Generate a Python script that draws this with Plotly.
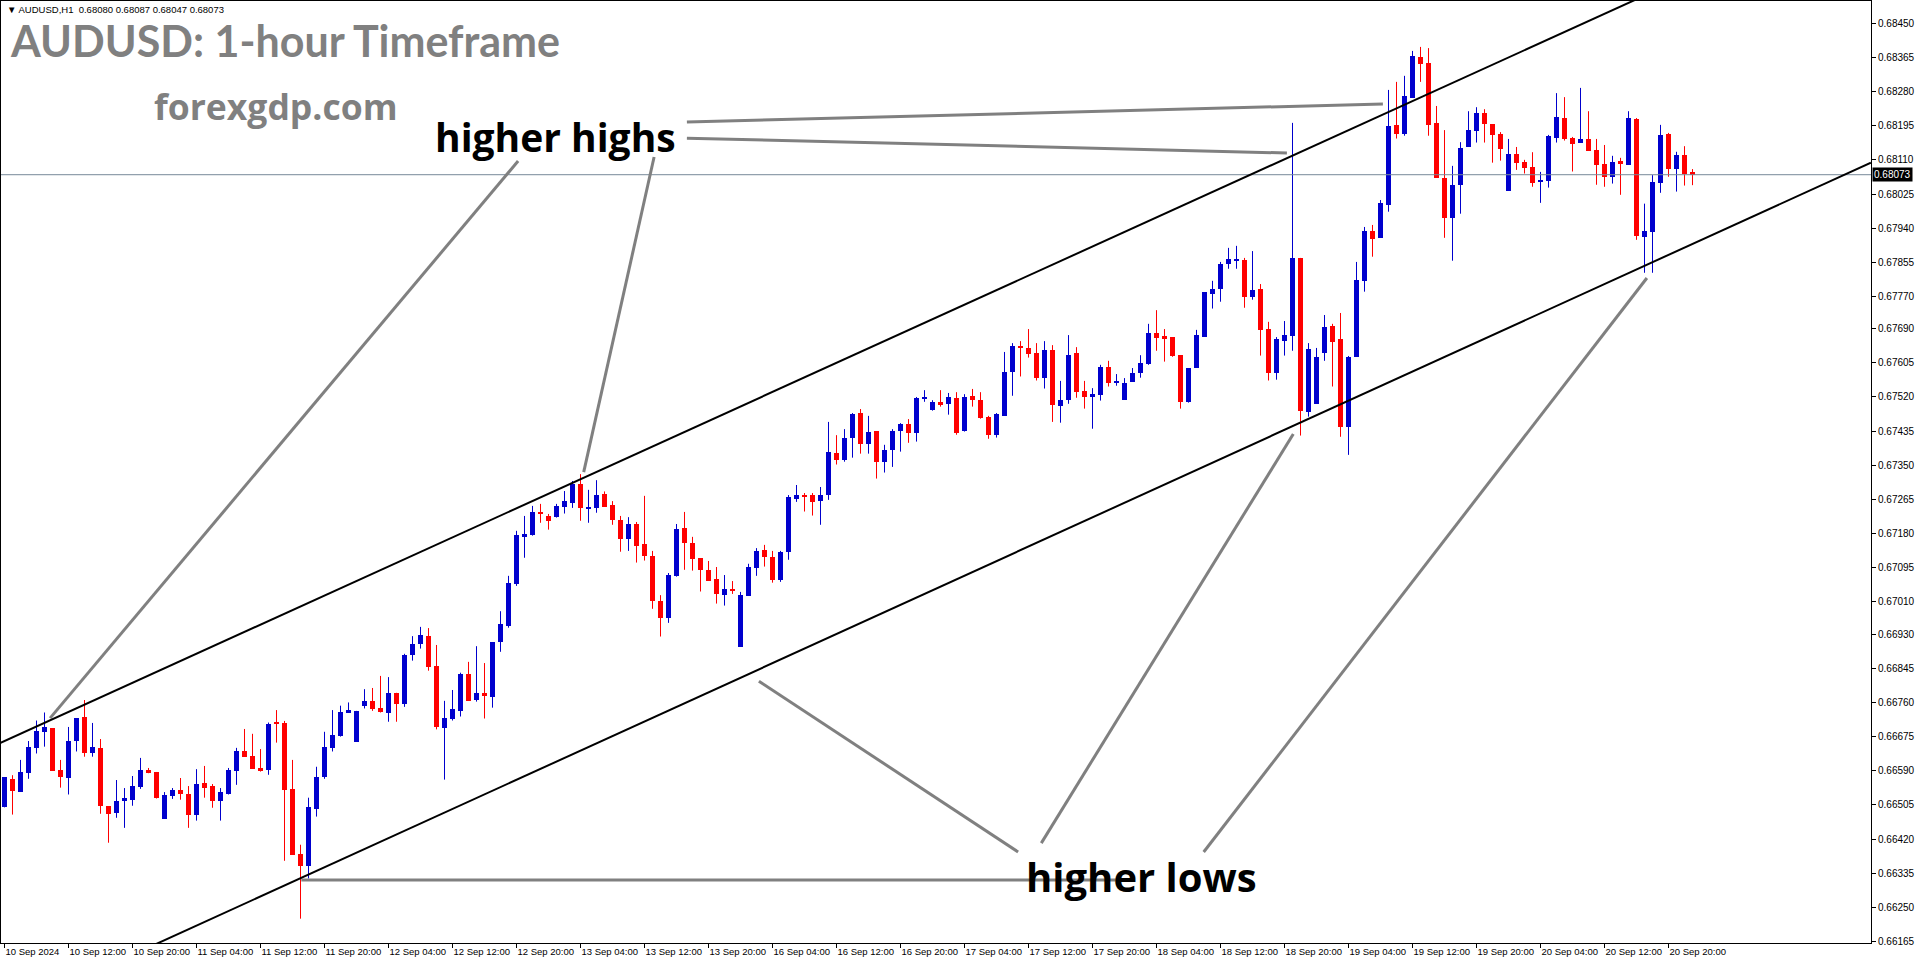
import plotly.graph_objects as go

# ---------------- data (AUDUSD H1) ----------------
OPEN = [0.66499,0.66570,0.66538,0.66585,0.66647,0.66687,0.66696,0.66592,0.66573,0.66664,
0.66724,0.66635,0.66647,0.66502,0.66486,0.66514,0.66518,0.66550,0.66592,0.66587,
0.66471,0.66528,0.66542,0.66532,0.66481,0.66560,0.66552,0.66516,0.66533,0.66590,
0.66640,0.66627,0.66597,0.66593,0.66709,0.66710,0.66545,0.66383,0.66354,0.66496,
0.66575,0.66647,0.66677,0.66734,0.66662,0.66752,0.66764,0.66746,0.66734,0.66784,
0.66757,0.66879,0.66906,0.66925,0.66851,0.66697,0.66720,0.66739,0.66831,0.66767,
0.66784,0.66774,0.66911,0.66951,0.67055,0.67172,0.67177,0.67234,0.67224,0.67222,
0.67247,0.67257,0.67304,0.67242,0.67244,0.67279,0.67251,0.67214,0.67167,0.67204,
0.67154,0.67124,0.67012,0.66971,0.67075,0.67194,0.67157,0.67119,0.67089,0.67067,
0.67028,0.67042,0.66899,0.67026,0.67095,0.67139,0.67122,0.67065,0.67135,0.67267,
0.67276,0.67276,0.67262,0.67277,0.67381,0.67362,0.67419,0.67479,0.67404,0.67435,
0.67359,0.67389,0.67436,0.67453,0.67431,0.67516,0.67488,0.67507,0.67503,0.67517,
0.67436,0.67522,0.67512,0.67470,0.67426,0.67473,0.67583,0.67644,0.67642,0.67629,
0.67568,0.67637,0.67498,0.67513,0.67629,0.67535,0.67521,0.67526,0.67595,0.67557,
0.67513,0.67558,0.67580,0.67603,0.67679,0.67672,0.67669,0.67624,0.67508,0.67593,
0.67670,0.67777,0.67789,0.67852,0.67859,0.67861,0.67770,0.67789,0.67689,0.67580,
0.67660,0.67672,0.67866,0.67483,0.67503,0.67630,0.67697,0.67664,0.67446,0.67620,
0.67809,0.67933,0.67916,0.67998,0.68197,0.68175,0.68265,0.68366,0.68351,0.68202,
0.68065,0.67966,0.68047,0.68142,0.68182,0.68226,0.68199,0.68174,0.68033,0.68125,
0.68105,0.68092,0.68057,0.68058,0.68165,0.68214,0.68164,0.68153,0.68162,0.68134,
0.68100,0.68068,0.68107,0.68098,0.68212,0.67919,0.67931,0.68053,0.68174,0.68088,
0.68122,0.68080]
HIGH = [0.66574,0.66579,0.66617,0.66664,0.66715,0.66735,0.66696,0.66617,0.66699,0.66721,
0.66766,0.66709,0.66669,0.66502,0.66567,0.66547,0.66577,0.66622,0.66597,0.66587,
0.66537,0.66547,0.66572,0.66552,0.66594,0.66602,0.66557,0.66547,0.66597,0.66647,
0.66694,0.66682,0.66644,0.66710,0.66741,0.66714,0.66617,0.66406,0.66523,0.66600,
0.66687,0.66741,0.66752,0.66760,0.66739,0.66793,0.66796,0.66826,0.66823,0.66784,
0.66881,0.66925,0.66948,0.66945,0.66903,0.66764,0.66791,0.66834,0.66861,0.66900,
0.66858,0.66910,0.66987,0.67075,0.67187,0.67224,0.67249,0.67254,0.67229,0.67254,
0.67286,0.67311,0.67328,0.67289,0.67313,0.67285,0.67261,0.67224,0.67221,0.67209,
0.67274,0.67137,0.67027,0.67082,0.67204,0.67234,0.67172,0.67119,0.67112,0.67097,
0.67077,0.67062,0.67035,0.67105,0.67144,0.67152,0.67137,0.67137,0.67276,0.67301,
0.67281,0.67281,0.67296,0.67458,0.67425,0.67440,0.67480,0.67490,0.67473,0.67435,
0.67401,0.67440,0.67455,0.67465,0.67520,0.67537,0.67512,0.67537,0.67530,0.67532,
0.67527,0.67540,0.67532,0.67473,0.67480,0.67632,0.67654,0.67659,0.67689,0.67654,
0.67659,0.67649,0.67560,0.67674,0.67644,0.67560,0.67542,0.67600,0.67610,0.67577,
0.67567,0.67592,0.67624,0.67702,0.67736,0.67689,0.67669,0.67624,0.67592,0.67687,
0.67781,0.67809,0.67856,0.67891,0.67896,0.67866,0.67883,0.67801,0.67707,0.67669,
0.67709,0.68202,0.67866,0.67654,0.67642,0.67724,0.67702,0.67729,0.67622,0.67856,
0.67943,0.67948,0.68010,0.68284,0.68304,0.68319,0.68381,0.68391,0.68388,0.68244,
0.68184,0.68095,0.68154,0.68231,0.68241,0.68236,0.68199,0.68179,0.68162,0.68142,
0.68110,0.68129,0.68080,0.68172,0.68276,0.68266,0.68167,0.68289,0.68231,0.68162,
0.68147,0.68120,0.68115,0.68231,0.68214,0.68001,0.68072,0.68197,0.68177,0.68130,
0.68144,0.68087]
LOW = [0.66499,0.66481,0.66538,0.66570,0.66633,0.66650,0.66590,0.66548,0.66531,0.66638,
0.66625,0.66625,0.66483,0.66411,0.66473,0.66448,0.66503,0.66545,0.66584,0.66521,
0.66471,0.66520,0.66518,0.66448,0.66466,0.66523,0.66498,0.66466,0.66531,0.66555,
0.66625,0.66595,0.66588,0.66580,0.66660,0.66366,0.66381,0.66222,0.66322,0.66476,
0.66570,0.66638,0.66675,0.66734,0.66662,0.66745,0.66739,0.66735,0.66712,0.66712,
0.66749,0.66864,0.66894,0.66839,0.66693,0.66568,0.66715,0.66725,0.66764,0.66762,
0.66720,0.66747,0.66886,0.66946,0.67050,0.67120,0.67175,0.67207,0.67190,0.67220,
0.67230,0.67244,0.67212,0.67207,0.67232,0.67247,0.67202,0.67135,0.67137,0.67108,
0.67113,0.66993,0.66924,0.66958,0.67073,0.67090,0.67088,0.67036,0.67063,0.67006,
0.67001,0.67030,0.66899,0.67026,0.67075,0.67098,0.67058,0.67060,0.67115,0.67259,
0.67235,0.67225,0.67202,0.67264,0.67352,0.67359,0.67369,0.67379,0.67379,0.67317,
0.67332,0.67346,0.67384,0.67406,0.67409,0.67508,0.67486,0.67496,0.67476,0.67426,
0.67434,0.67496,0.67466,0.67416,0.67419,0.67473,0.67523,0.67571,0.67618,0.67561,
0.67541,0.67458,0.67456,0.67503,0.67518,0.67491,0.67441,0.67511,0.67546,0.67548,
0.67513,0.67558,0.67568,0.67600,0.67635,0.67608,0.67620,0.67491,0.67506,0.67593,
0.67670,0.67740,0.67757,0.67839,0.67839,0.67742,0.67762,0.67623,0.67561,0.67563,
0.67623,0.67635,0.67424,0.67471,0.67503,0.67610,0.67546,0.67421,0.67376,0.67620,
0.67782,0.67869,0.67916,0.67981,0.68163,0.68170,0.68265,0.68304,0.68170,0.68065,
0.67916,0.67859,0.67976,0.68142,0.68153,0.68153,0.68103,0.68108,0.68033,0.68085,
0.68076,0.68043,0.68003,0.68041,0.68153,0.68158,0.68081,0.68153,0.68133,0.68048,
0.68043,0.68051,0.68023,0.68098,0.67911,0.67829,0.67829,0.68028,0.68068,0.68031,
0.68046,0.68047]
CLOSE = [0.66574,0.66540,0.66587,0.66649,0.66689,0.66699,0.66590,0.66575,0.66664,0.66721,
0.66635,0.66649,0.66503,0.66483,0.66515,0.66522,0.66552,0.66592,0.66585,0.66523,
0.66529,0.66542,0.66533,0.66481,0.66557,0.66548,0.66516,0.66537,0.66593,0.66640,
0.66625,0.66595,0.66590,0.66707,0.66707,0.66543,0.66381,0.66354,0.66500,0.66575,
0.66649,0.66679,0.66736,0.66741,0.66739,0.66764,0.66744,0.66737,0.66784,0.66757,
0.66878,0.66905,0.66928,0.66849,0.66700,0.66721,0.66744,0.66831,0.66764,0.66784,
0.66777,0.66910,0.66955,0.67057,0.67177,0.67179,0.67234,0.67229,0.67212,0.67249,
0.67261,0.67304,0.67244,0.67246,0.67276,0.67247,0.67215,0.67167,0.67205,0.67150,
0.67125,0.67013,0.66971,0.67077,0.67192,0.67157,0.67118,0.67090,0.67063,0.67031,
0.67042,0.67038,0.67027,0.67097,0.67137,0.67123,0.67065,0.67134,0.67270,0.67276,
0.67272,0.67259,0.67276,0.67383,0.67364,0.67418,0.67478,0.67404,0.67433,0.67359,
0.67388,0.67435,0.67453,0.67431,0.67517,0.67520,0.67507,0.67501,0.67520,0.67431,
0.67520,0.67513,0.67468,0.67426,0.67478,0.67582,0.67647,0.67642,0.67628,0.67566,
0.67637,0.67501,0.67512,0.67624,0.67533,0.67521,0.67527,0.67595,0.67556,0.67560,
0.67555,0.67580,0.67605,0.67679,0.67667,0.67665,0.67623,0.67508,0.67592,0.67674,
0.67781,0.67789,0.67851,0.67863,0.67863,0.67770,0.67786,0.67687,0.67580,0.67664,
0.67674,0.67866,0.67486,0.67639,0.67619,0.67694,0.67658,0.67446,0.67619,0.67811,
0.67933,0.67914,0.68003,0.68194,0.68175,0.68269,0.68368,0.68349,0.68197,0.68065,
0.67966,0.68047,0.68139,0.68184,0.68226,0.68199,0.68172,0.68138,0.68125,0.68103,
0.68090,0.68053,0.68058,0.68169,0.68217,0.68163,0.68150,0.68162,0.68133,0.68098,
0.68068,0.68105,0.68100,0.68214,0.67921,0.67933,0.68055,0.68172,0.68088,0.68122,
0.68076,0.68073]

X_TICK_LABELS = ["10 Sep 2024","10 Sep 12:00","10 Sep 20:00","11 Sep 04:00","11 Sep 12:00",
    "11 Sep 20:00","12 Sep 04:00","12 Sep 12:00","12 Sep 20:00","13 Sep 04:00","13 Sep 12:00",
    "13 Sep 20:00","16 Sep 04:00","16 Sep 12:00","16 Sep 20:00","17 Sep 04:00","17 Sep 12:00",
    "17 Sep 20:00","18 Sep 04:00","18 Sep 12:00","18 Sep 20:00","19 Sep 04:00","19 Sep 12:00",
    "19 Sep 20:00","20 Sep 04:00","20 Sep 12:00","20 Sep 20:00"]
X_TICK_BARS = [8 * k for k in range(len(X_TICK_LABELS))]   # one label every 8 hourly bars

Y_TICK_LABELS = ["0.68450","0.68365","0.68280","0.68195","0.68110","0.68025","0.67940",
    "0.67855","0.67770","0.67690","0.67605","0.67520","0.67435","0.67350","0.67265","0.67180",
    "0.67095","0.67010","0.66930","0.66845","0.66760","0.66675","0.66590","0.66505","0.66420",
    "0.66335","0.66250","0.66165"]

LAST_PRICE = 0.68073
HEADER = "\u25bc AUDUSD,H1  0.68080 0.68087 0.68047 0.68073"

# channel lines: (bar index, price) anchor pairs
UPPER_CHANNEL = [(-0.56, 0.66659), (211.9, 0.68581)]
LOWER_CHANNEL = [(-0.56, 0.65982), (233.3, 0.68103)]
# grey pointer lines for the labels
HIGHS_POINTERS = [[(85.3, 0.68204), (172.3, 0.68249)],
                  [(85.3, 0.68164), (160.3, 0.68127)],
                  [(64.2, 0.68107), (5.7, 0.66721)],
                  [(81.2, 0.68117), (72.4, 0.67333)]]
LOWS_POINTERS = [[(37.1, 0.66318), (138.9, 0.66318)],
                 [(126.7, 0.66388), (94.3, 0.66813)],
                 [(129.6, 0.66410), (161.1, 0.67428)],
                 [(149.9, 0.66388), (205.3, 0.67816)]]
HIGHS_LABEL = (68.9, 0.68169)
LOWS_LABEL = (142.1, 0.66326)

# ---------------- figure ----------------
UP = "#0000CD"
DOWN = "#FF0000"
n = len(OPEN)
idx = list(range(n))

fig = go.Figure()

for is_up, col in ((True, UP), (False, DOWN)):
    xs, base, h = [], [], []
    wx, wy = [], []
    for i in idx:
        up = CLOSE[i] >= OPEN[i]
        if up != is_up:
            continue
        lo = min(OPEN[i], CLOSE[i])
        xs.append(i)
        base.append(lo)
        h.append(max(abs(CLOSE[i] - OPEN[i]), 0.000024))
        wx += [i, i, None]
        wy += [LOW[i], HIGH[i], None]
    fig.add_trace(go.Scatter(x=wx, y=wy, mode="lines", line=dict(color=col, width=1),
                             hoverinfo="skip", showlegend=False))
    fig.add_trace(go.Bar(x=xs, y=h, base=base, width=0.625, marker=dict(color=col, line=dict(width=0)),
                         showlegend=False, hoverinfo="skip"))

# bid line
fig.add_trace(go.Scatter(x=[-1, 240], y=[LAST_PRICE, LAST_PRICE], mode="lines",
                         line=dict(color="#778899", width=1), hoverinfo="skip", showlegend=False))

for seg in HIGHS_POINTERS + LOWS_POINTERS:
    fig.add_trace(go.Scatter(x=[p[0] for p in seg], y=[p[1] for p in seg], mode="lines",
                             line=dict(color="#808080", width=3), hoverinfo="skip", showlegend=False))
for seg in (UPPER_CHANNEL, LOWER_CHANNEL):
    fig.add_trace(go.Scatter(x=[p[0] for p in seg], y=[p[1] for p in seg], mode="lines",
                             line=dict(color="#000000", width=2), hoverinfo="skip", showlegend=False))

X0 = -0.4375
fig.update_layout(
    width=1916, height=964,
    margin=dict(l=1, r=45, t=1, b=21, pad=0, autoexpand=False),
    paper_bgcolor="white", plot_bgcolor="white",
    barmode="overlay", bargap=0, showlegend=False,
    xaxis=dict(range=[X0, X0 + 1870 / 8], showgrid=False, zeroline=False, automargin=False,
               showline=True, linecolor="black", linewidth=1, mirror=True,
               ticks="outside", ticklen=4, tickcolor="black", tickwidth=1, tickangle=0,
               tickvals=X_TICK_BARS, ticktext=X_TICK_LABELS,
               ticklabelposition="outside right",
               tickfont=dict(family="Liberation Sans", size=9.5, color="black")),
    yaxis=dict(range=[0.661615, 0.685052], side="right", showgrid=False, zeroline=False,
               automargin=False,
               showline=True, linecolor="black", linewidth=1, mirror=True,
               ticks="outside", ticklen=4, tickcolor="black", tickwidth=1,
               tickvals=[float(t) for t in Y_TICK_LABELS], ticktext=Y_TICK_LABELS,
               tickfont=dict(family="Liberation Sans", size=10, color="black")),
)

ann = []
ann.append(dict(text=HEADER, xref="paper", yref="paper", x=0.002, y=0.991, xanchor="left",
                yanchor="middle", showarrow=False,
                font=dict(family="Liberation Sans", size=9.5, color="black")))
ann.append(dict(text="<b>AUDUSD: 1-hour Timeframe</b>", xref="paper", yref="paper", x=0.004, y=0.958,
                xanchor="left", yanchor="middle", showarrow=False,
                font=dict(family="Lato", size=43, color="#808080")))
ann.append(dict(text="<b>forexgdp.com</b>", xref="paper", yref="paper", x=0.147, y=0.889,
                xanchor="center", yanchor="middle", showarrow=False,
                font=dict(family="Open Sans", size=35.5, color="#808080")))
ann.append(dict(text="<b>higher highs</b>", xref="x", yref="y", x=HIGHS_LABEL[0], y=HIGHS_LABEL[1],
                xanchor="center", yanchor="middle", showarrow=False,
                font=dict(family="Open Sans", size=39, color="black")))
ann.append(dict(text="<b>higher lows</b>", xref="x", yref="y", x=LOWS_LABEL[0], y=LOWS_LABEL[1],
                xanchor="center", yanchor="middle", showarrow=False,
                font=dict(family="Open Sans", size=40, color="black")))
ann.append(dict(text="0.68073", xref="paper", yref="y", x=1.0, y=LAST_PRICE, xanchor="left",
                yanchor="middle", showarrow=False, bgcolor="black", borderpad=1, xshift=1,
                font=dict(family="Liberation Sans", size=10, color="white")))
fig.update_layout(annotations=ann)

fig.write_html("out.html", config={"displayModeBar": False},
               post_script="document.body.style.margin='0';")
